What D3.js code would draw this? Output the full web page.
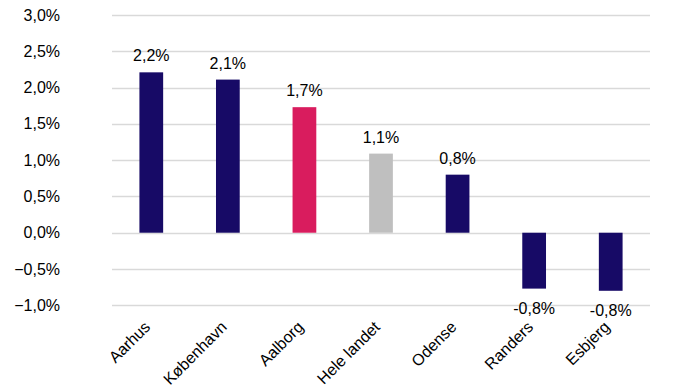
<!DOCTYPE html>
<html>
<head>
<meta charset="utf-8">
<script src="https://cdn.jsdelivr.net/npm/d3@7"></script>
<style>
  body { margin: 0; background: #fff; }
  text { font-family: "Liberation Sans", Arial, sans-serif; }
</style>
</head>
<body>
<div id="chart"></div>
<script>
// data
var cities = ["Aarhus", "København", "Aalborg", "Hele landet", "Odense", "Randers", "Esbjerg"]
var growth = [2.21, 2.11, 1.73, 1.09, 0.80, -0.77, -0.80]
var labels = ["2,2%", "2,1%", "1,7%", "1,1%", "0,8%", "-0,8%", "-0,8%"]
var tickValues = [-1, -0.5, 0, 0.5, 1, 1.5, 2, 2.5, 3]
var barColors = ["#170a66", "#170a66", "#d91c5e", "#bfbfbf", "#170a66", "#170a66", "#170a66"]

var width = 700,
    height = 386

var svg = d3.select("#chart")
  .append("svg")
    .attr("width", width)
    .attr("height", height)

var x = d3.scaleBand()
    .domain(cities)
    .range([113, 649])
    .paddingInner(0.69)
    .paddingOuter(0.345)

var y = d3.scaleLinear()
    .domain([-1, 3])
    .range([305.3, 15])

var fmt = function(v) { return d3.format(".1f")(v).replace(".", ",") + "%" }

// gridlines
svg.selectAll(".grid")
  .data(tickValues)
  .enter()
  .append("line")
    .attr("x1", 112)
    .attr("x2", 650)
    .attr("y1", d => Math.round(y(d)) + 0.5)
    .attr("y2", d => Math.round(y(d)) + 0.5)
    .attr("stroke", "#d9d9d9")
    .attr("stroke-width", 1.3)

// y tick labels
svg.selectAll(".ytick")
  .data(tickValues)
  .enter()
  .append("text")
    .attr("x", 60)
    .attr("y", d => y(d) + 5.5)
    .attr("text-anchor", "end")
    .style("font-size", "16px")
    .attr("fill", "#000")
    .text(fmt)

// bars
svg.selectAll(".bar")
  .data(growth)
  .enter()
  .append("rect")
    .attr("x", (d, i) => x(cities[i]))
    .attr("width", x.bandwidth())
    .attr("y", d => y(Math.max(0, d)))
    .attr("height", d => Math.abs(y(d) - y(0)))
    .attr("fill", (d, i) => barColors[i])

// value labels
svg.selectAll(".val")
  .data(growth)
  .enter()
  .append("text")
    .attr("x", (d, i) => x(cities[i]) + x.bandwidth() / 2)
    .attr("y", d => d >= 0 ? y(d) - 11 : y(d) + 25)
    .attr("text-anchor", "middle")
    .style("font-size", "16px")
    .attr("fill", "#000")
    .text((d, i) => labels[i])

// category labels, rotated
svg.selectAll(".xlab")
  .data(cities)
  .enter()
  .append("text")
    .attr("transform", d => "translate(" + (x(d) + x.bandwidth() / 2) + ",328) rotate(-45)")
    .attr("text-anchor", "end")
    .style("font-size", "16px")
    .attr("fill", "#000")
    .text(d => d)
</script>
</body>
</html>
